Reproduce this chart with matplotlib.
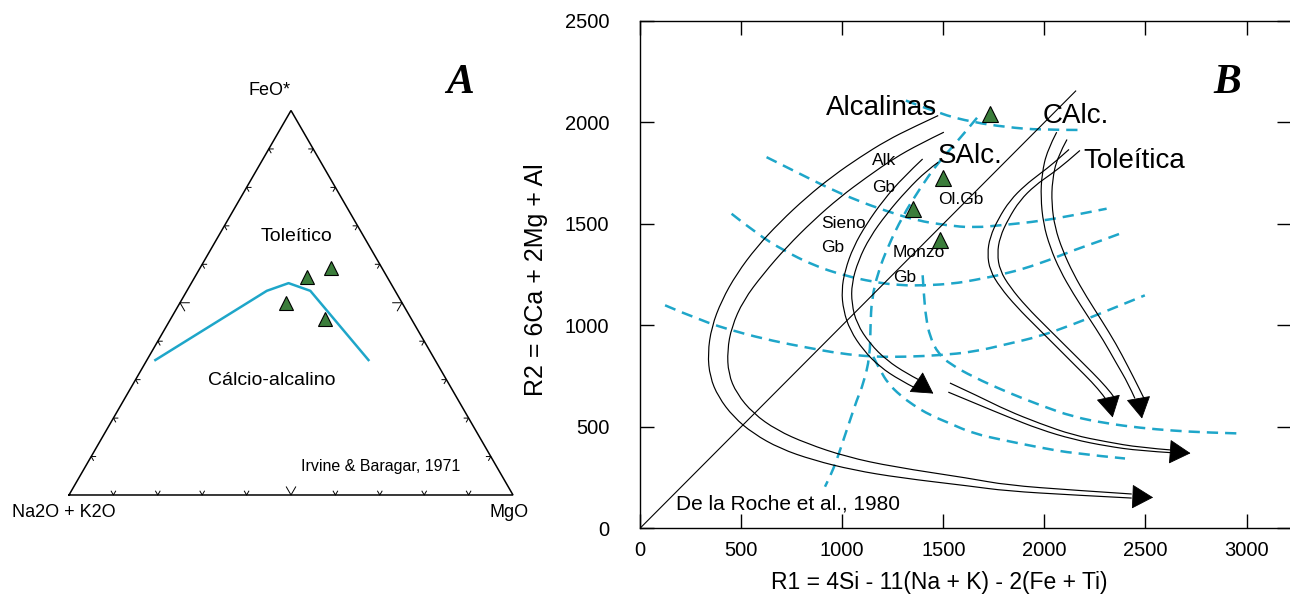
import numpy as np
import matplotlib
matplotlib.use("Agg")
import matplotlib.pyplot as plt
from matplotlib.path import Path
from matplotlib.patches import PathPatch

plt.rcParams['font.family'] = ['Liberation Sans', 'DejaVu Sans']

# ---------------- Panel A: AFM ternary (Irvine & Baragar, 1971) ----------------
afm_sample_alk = [18.1, 11.6, 26.2, 19.4]
afm_sample_fe = [56.8, 59.0, 50.0, 45.7]
afm_sample_mg = [25.1, 29.4, 23.8, 34.9]

afm_divide_alk = [63.0, 28.9, 23.0, 19.1, 15.0]
afm_divide_fe = [35.1, 53.1, 55.1, 53.1, 35.1]
afm_divide_mg = [1.9, 18.0, 21.9, 27.8, 49.9]

afm_ticks = [10, 20, 30, 40, 50, 60, 70, 80, 90]
afm_vertex_labels = ['Na2O + K2O', 'FeO*', 'MgO']

# ---------------- Panel B: R1-R2 (De la Roche et al., 1980) ----------------
r1_samples = [1730, 1500, 1352, 1484]
r2_samples = [2040, 1727, 1575, 1419]

r1_ticks = [0, 500, 1000, 1500, 2000, 2500, 3000]
r2_ticks = [0, 500, 1000, 1500, 2000, 2500]

diag_r1 = [0, 2155]
diag_r2 = [0, 2155]

# trend arrows: each drawn as a pair of parallel lines
alk_outer_r1 = [1475, 1352, 1220, 1088, 956, 824, 692, 577, 478, 404, 354, 335, 346, 387,
                462, 560, 692, 857, 1055, 1286, 1632, 1813, 2143, 2432]
alk_outer_r2 = [2034, 1977, 1911, 1829, 1738, 1632, 1509, 1386, 1254, 1123, 992, 861, 746, 648,
                549, 467, 393, 336, 287, 249, 208, 184, 164, 149]
alk_inner_r1 = [1503, 1385, 1253, 1121, 989, 857, 725, 610, 511, 453, 432, 437, 478, 560,
                676, 824, 1022, 1253, 1632, 1813, 2143, 2432]
alk_inner_r2 = [1952, 1895, 1821, 1730, 1632, 1517, 1386, 1254, 1123, 992, 877, 762, 664, 566,
                484, 418, 352, 303, 246, 213, 188, 169]

salc_outer_r1 = [1398, 1302, 1203, 1121, 1055, 1014, 997, 1006, 1039, 1105, 1187, 1286, 1360]
salc_outer_r2 = [1820, 1730, 1616, 1501, 1386, 1271, 1173, 1074, 976, 877, 795, 730, 692]
salc_inner_r1 = [1475, 1418, 1319, 1220, 1137, 1080, 1047, 1047, 1072, 1137, 1220, 1319, 1377]
salc_inner_r2 = [1804, 1763, 1665, 1550, 1435, 1320, 1206, 1107, 1009, 910, 828, 763, 733]

mid_upper_r1 = [1533, 1682, 1813, 1978, 2143, 2308, 2473, 2638]
mid_upper_r2 = [716, 647, 582, 516, 459, 426, 398, 385]
mid_lower_r1 = [1525, 1682, 1813, 1978, 2143, 2308, 2473, 2638]
mid_lower_r2 = [671, 606, 552, 487, 438, 405, 382, 372]

calc_outer_r1 = [2061, 2014, 1988, 1982, 1995, 2028, 2077, 2143, 2217, 2292, 2357, 2415, 2448]
calc_outer_r2 = [1952, 1862, 1747, 1632, 1501, 1386, 1271, 1156, 1042, 927, 812, 713, 640]
calc_inner_r1 = [2112, 2064, 2039, 2036, 2052, 2090, 2143, 2209, 2283, 2354, 2415, 2465, 2493]
calc_inner_r2 = [1916, 1829, 1714, 1599, 1484, 1370, 1255, 1140, 1025, 910, 795, 697, 640]

thol_outer_r1 = [2122, 2052, 1978, 1904, 1830, 1772, 1731, 1718, 1731, 1780, 1863, 1962,
                 2061, 2160, 2234, 2291, 2308]
thol_outer_r2 = [1867, 1804, 1747, 1690, 1616, 1525, 1435, 1353, 1271, 1189, 1091, 992,
                 894, 795, 722, 656, 631]
thol_inner_r1 = [2176, 2110, 2036, 1954, 1879, 1822, 1780, 1767, 1780, 1830, 1912, 2011,
                 2110, 2201, 2275, 2333, 2349]
thol_inner_r2 = [1862, 1804, 1747, 1690, 1616, 1525, 1435, 1353, 1271, 1189, 1091, 992,
                 894, 804, 730, 664, 640]

# arrow heads: (tail, tip) pairs
head_tail_r1 = [2440, 1367, 2629, 2466, 2318]
head_tail_r2 = [156, 720, 377, 638, 638]
head_tip_r1 = [2538, 1451, 2723, 2483, 2338]
head_tip_r2 = [152, 664, 370, 541, 546]

# dashed field boundaries
bnd_top_r1 = [1315, 1484, 1648, 1813, 1978, 2193]
bnd_top_r2 = [2108, 2042, 2001, 1977, 1963, 1963]
bnd_radial_r1 = [1667, 1565, 1473, 1381, 1299, 1227, 1176, 1146, 1140, 1137, 1105, 1072,
                 1039, 1006, 973, 940, 915]
bnd_radial_r2 = [2023, 1900, 1801, 1669, 1538, 1390, 1258, 1127, 1000, 845, 713, 631,
                 533, 435, 336, 254, 205]
bnd_e_r1 = [626, 775, 923, 1072, 1220, 1368, 1517, 1648, 1813, 1978, 2143, 2308]
bnd_e_r2 = [1829, 1755, 1681, 1616, 1563, 1517, 1493, 1481, 1496, 1514, 1542, 1575]
bnd_f_r1 = [453, 577, 709, 857, 1006, 1154, 1286, 1418, 1550, 1648, 1813, 1978, 2143, 2308, 2374]
bnd_f_r2 = [1550, 1452, 1370, 1296, 1247, 1214, 1197, 1197, 1206, 1222, 1255, 1304, 1370, 1427, 1452]
bnd_g_r1 = [124, 297, 478, 659, 824, 989, 1154, 1319, 1484, 1648, 1813, 1978, 2143, 2308, 2497]
bnd_g_r2 = [1099, 1025, 968, 923, 891, 861, 845, 845, 853, 869, 907, 946, 1005, 1071, 1148]
bnd_c_r1 = [1398, 1405, 1414, 1434, 1475, 1533, 1648, 1813, 1978, 2143, 2308, 2473, 2638, 2802, 2975]
bnd_c_r2 = [1247, 1140, 1042, 943, 861, 810, 746, 672, 607, 549, 517, 495, 481, 472, 467]
bnd_d_r1 = [1154, 1187, 1228, 1286, 1352, 1434, 1533, 1648, 1813, 1978, 2143, 2399]
bnd_d_r2 = [845, 779, 713, 656, 607, 558, 517, 467, 431, 398, 369, 344]

CYAN = '#1ea6c9'
GREEN = '#3b7d3b'
SQ3 = np.sqrt(3.0)


def tern_xy(alk, fe, mg):
    alk, fe, mg = (np.asarray(v, dtype=float) for v in (alk, fe, mg))
    tot = alk + fe + mg
    return (mg + fe / 2.0) / tot, (fe * SQ3 / 2.0) / tot


def smooth_curve(ax, xs, ys, **kw):
    """Quadratic Bezier path through the traced control points."""
    pts = np.column_stack([xs, ys]).astype(float)
    verts = [pts[0]]
    codes = [Path.MOVETO]
    n = len(pts)
    for i in range(1, n - 1):
        end = pts[i + 1] if i == n - 2 else (pts[i] + pts[i + 1]) / 2.0
        verts += [pts[i], end]
        codes += [Path.CURVE3, Path.CURVE3]
    if n == 2:
        verts.append(pts[1])
        codes.append(Path.LINETO)
    ax.add_patch(PathPatch(Path(verts, codes), fill=False, **kw))


fig = plt.figure(figsize=(12.9, 5.94), dpi=100)
fig.patch.set_facecolor('white')

# ======================= Panel A =======================
axA = fig.add_axes([0, 0, 540 / 1290, 1])
axA.set_xlim(-0.1554, 1.0608)
axA.set_ylim(-0.223, 1.1149)
axA.axis('off')

vx, vy = tern_xy([100, 0, 0, 100], [0, 100, 0, 0], [0, 0, 100, 0])
axA.plot(vx, vy, color='black', lw=1.1, solid_joinstyle='miter', zorder=2)

# chevron ticks along each edge, pointing along the grid directions
for t in afm_ticks:
    L = 0.021 if t == 50 else 0.010
    edges = [
        (tern_xy(100 - t, 0, t), (60, 120)),        # base
        (tern_xy(100 - t, t, 0), (0, -60)),         # left side
        (tern_xy(0, t, 100 - t), (180, 240)),       # right side
    ]
    for (px, py), (a1, a2) in edges:
        px, py = float(px), float(py)
        xs = [px + L * np.cos(np.radians(a1)), px, px + L * np.cos(np.radians(a2))]
        ys = [py + L * np.sin(np.radians(a1)), py, py + L * np.sin(np.radians(a2))]
        axA.plot(xs, ys, color='black', lw=0.7, zorder=2)

dx_, dy_ = tern_xy(afm_divide_alk, afm_divide_fe, afm_divide_mg)
axA.plot(dx_, dy_, color=CYAN, lw=1.8, zorder=3)

sx_, sy_ = tern_xy(afm_sample_alk, afm_sample_fe, afm_sample_mg)
axA.plot(sx_, sy_, linestyle='none', marker='^', ms=10.5, mfc=GREEN, mec='black',
         mew=0.8, zorder=4)

axA.text(-0.011, -0.040, afm_vertex_labels[0], fontsize=13, ha='center', va='center')
axA.text(0.452, 0.912, afm_vertex_labels[1], fontsize=13, ha='center', va='center')
axA.text(0.990, -0.040, afm_vertex_labels[2], fontsize=13, ha='center', va='center')
axA.text(0.5135, 0.5833, 'Toleítico', fontsize=14, ha='center', va='center')
axA.text(0.4572, 0.2590, 'Cálcio-alcalino', fontsize=14, ha='center', va='center')
axA.text(0.7027, 0.0653, 'Irvine & Baragar, 1971', fontsize=11.5, ha='center', va='center')
axA.text(0.8806, 0.9279, 'A', fontsize=30, ha='center', va='center',
         family='Liberation Serif', weight='bold', style='italic')

# ======================= Panel B =======================
axB = fig.add_axes([640 / 1290, (594 - 528.3) / 594, 651 / 1290, 507.3 / 594])
axB.set_xlim(0, 3220)
axB.set_ylim(0, 2500)
axB.set_xticks(r1_ticks)
axB.set_yticks(r2_ticks)
axB.tick_params(direction='in', length=10, width=1, top=True, right=True,
                labelsize=14.5, colors='black')
axB.tick_params(axis='x', pad=9.5)
axB.tick_params(axis='y', pad=22)
for sp in axB.spines.values():
    sp.set_linewidth(1.0)
    sp.set_color('black')

axB.set_xlabel('R1 = 4Si - 11(Na + K) - 2(Fe + Ti)', fontsize=16.5, va='center')
axB.xaxis.set_label_coords(0.459, -0.107)
axB.set_ylabel('R2 = 6Ca + 2Mg + Al', fontsize=18, va='center')
axB.yaxis.set_label_coords(-0.160, 0.4895)

axB.plot(diag_r1, diag_r2, color='black', lw=0.8, zorder=2)

dash_kw = dict(edgecolor=CYAN, lw=1.8, linestyle=(0, (4.5, 2.8)), zorder=1)
for xs, ys in [(bnd_top_r1, bnd_top_r2), (bnd_radial_r1, bnd_radial_r2),
               (bnd_e_r1, bnd_e_r2), (bnd_f_r1, bnd_f_r2), (bnd_g_r1, bnd_g_r2),
               (bnd_c_r1, bnd_c_r2), (bnd_d_r1, bnd_d_r2)]:
    smooth_curve(axB, xs, ys, **dash_kw)

line_kw = dict(edgecolor='black', lw=0.85, zorder=3)
for xs, ys in [(alk_outer_r1, alk_outer_r2), (alk_inner_r1, alk_inner_r2),
               (salc_outer_r1, salc_outer_r2), (salc_inner_r1, salc_inner_r2),
               (mid_upper_r1, mid_upper_r2), (mid_lower_r1, mid_lower_r2),
               (calc_outer_r1, calc_outer_r2), (calc_inner_r1, calc_inner_r2),
               (thol_outer_r1, thol_outer_r2), (thol_inner_r1, thol_inner_r2)]:
    smooth_curve(axB, xs, ys, **line_kw)

for tx, ty, hx, hy in zip(head_tail_r1, head_tail_r2, head_tip_r1, head_tip_r2):
    axB.annotate('', xy=(hx, hy), xytext=(tx, ty), zorder=4,
                 arrowprops=dict(arrowstyle='-|>,head_length=1.4,head_width=0.8',
                                 mutation_scale=10, color='black', lw=0.6,
                                 shrinkA=0, shrinkB=0))

axB.plot(r1_samples, r2_samples, linestyle='none', marker='^', ms=11.5, mfc=GREEN,
         mec='black', mew=0.8, zorder=5)

big = dict(fontsize=20, ha='center', va='center', zorder=6)
small = dict(fontsize=12.5, ha='center', va='center', zorder=6)
axB.text(1195, 2072, 'Alcalinas', **big)
axB.text(1635, 1837, 'SAlc.', **big)
axB.text(2156, 2034, 'CAlc.', **big)
axB.text(2446, 1809, 'Toleítica', **big)
axB.text(1208, 1813, 'Alk', **small)
axB.text(1203, 1681, 'Gb', **small)
axB.text(1006, 1504, 'Sieno', **small)
axB.text(953, 1383, 'Gb', **small)
axB.text(1586, 1619, 'Ol.Gb', **small)
axB.text(1378, 1361, 'Monzo', **small)
axB.text(1311, 1238, 'Gb', **small)
axB.text(734, 118, 'De la Roche et al., 1980', fontsize=15, ha='center', va='center', zorder=6)
axB.text(2903, 2196, 'B', fontsize=30, ha='center', va='center',
         family='Liberation Serif', weight='bold', style='italic', zorder=6)

fig.savefig('out.png', dpi=100, facecolor='white')
